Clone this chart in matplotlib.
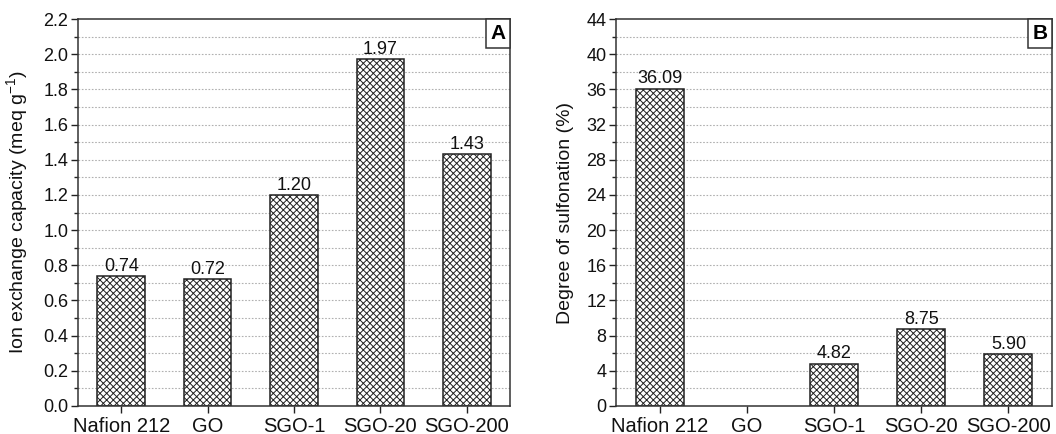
import numpy as np
import matplotlib
matplotlib.use("Agg")
import matplotlib.pyplot as plt
from matplotlib.ticker import MultipleLocator
from matplotlib.patches import Rectangle

plt.rcParams['font.family'] = ['Liberation Sans', 'DejaVu Sans']
plt.rcParams['mathtext.fontset'] = 'custom'
plt.rcParams['mathtext.rm'] = 'Liberation Sans'
plt.rcParams['mathtext.default'] = 'regular'
plt.rcParams['hatch.color'] = '#333333'
plt.rcParams['hatch.linewidth'] = 0.7

samples = ["Nafion 212", "GO", "SGO-1", "SGO-20", "SGO-200"]
iec_values = [0.74, 0.72, 1.20, 1.97, 1.43]
iec_labels = ["0.74", "0.72", "1.20", "1.97", "1.43"]
ds_values = [36.09, np.nan, 4.82, 8.75, 5.90]
ds_labels = ["36.09", "", "4.82", "8.75", "5.90"]

fig = plt.figure(figsize=(10.56, 4.34), dpi=100)
axA = fig.add_axes([78/1056, 28/434, 432/1056, 387/434])
axB = fig.add_axes([616/1056, 28/434, 436/1056, 387/434])

edge = '#222222'


def draw_panel(ax, values, labels, ymax, major, minor, ylabel, tag, fmt):
    x = np.arange(len(samples))
    ax.set_axisbelow(True)
    for v in np.arange(minor, ymax - minor / 2, minor):
        ax.axhline(v, color='#b0b0b0', lw=0.8, ls=(0, (1.5, 1.5)), zorder=0)
    vals = np.array(values, dtype=float)
    mask = ~np.isnan(vals)
    ax.bar(x[mask], vals[mask], width=0.55, color='white', edgecolor=edge,
           linewidth=1.1, hatch='xxxxx', zorder=2)
    for xi, v, lab in zip(x, vals, labels):
        if np.isnan(v):
            continue
        ax.text(xi, v + ymax * 0.003, lab, ha='center', va='bottom', fontsize=13, color='#111111')
    ax.set_xlim(-0.5, 4.5)
    ax.set_ylim(0, ymax)
    ax.set_xticks(x)
    ax.set_xticklabels(samples, fontsize=14.5)
    ax.yaxis.set_major_locator(MultipleLocator(major))
    ax.yaxis.set_minor_locator(MultipleLocator(minor))
    ax.yaxis.set_major_formatter(matplotlib.ticker.FormatStrFormatter(fmt))
    ax.tick_params(axis='y', which='major', direction='out', length=5, width=1, labelsize=13, pad=2, colors='#222222')
    ax.tick_params(axis='y', which='minor', direction='out', length=3, width=1, colors='#222222')
    ax.tick_params(axis='x', which='major', direction='out', length=5, width=1, pad=3, colors='#222222')
    ax.tick_params(axis='y', labelcolor='#111111')
    ax.tick_params(axis='x', labelcolor='#111111')
    for s in ax.spines.values():
        s.set_color('#333333')
        s.set_linewidth(1.1)
    ax.set_ylabel(ylabel, fontsize=14, color='#111111')
    # panel tag box in the top-right corner
    bw = 24 / (ax.get_position().width * 1056)
    bh = 29 / (ax.get_position().height * 434)
    ax.add_patch(Rectangle((1 - bw, 1 - bh), bw, bh, transform=ax.transAxes,
                           facecolor='white', edgecolor='#333333', lw=1.1, zorder=5, clip_on=False))
    ax.text(1 - bw / 2, 1 - bh / 2, tag, transform=ax.transAxes, ha='center', va='center',
            fontsize=15, fontweight='bold', zorder=6)


draw_panel(axA, iec_values, iec_labels, 2.2, 0.2, 0.1,
           "Ion exchange capacity (meq g$^{-1}$)", "A", "%.1f")
draw_panel(axB, ds_values, ds_labels, 44, 4, 2,
           "Degree of sulfonation (%)", "B", "%d")

axA.yaxis.set_label_coords(-0.112, 0.5)
axB.yaxis.set_label_coords(-0.097, 0.5)

fig.savefig("out.png", dpi=100)
